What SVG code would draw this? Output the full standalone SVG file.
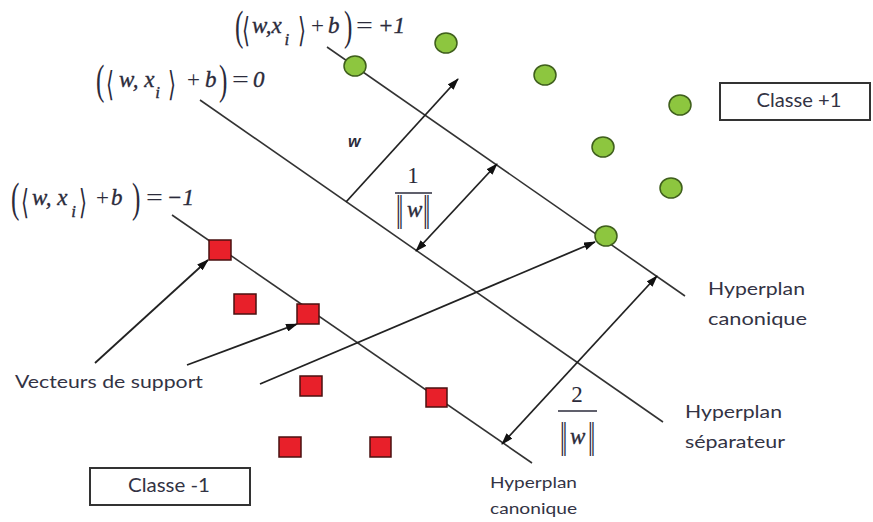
<svg xmlns="http://www.w3.org/2000/svg" width="873" height="522" viewBox="0 0 873 522">
<style>
.ln{stroke:#333;stroke-width:1.6;fill:none}
.ar{stroke:#222;stroke-width:1.8;fill:none;marker-end:url(#ah)}
.dar{stroke:#222;stroke-width:1.8;fill:none;marker-end:url(#ah);marker-start:url(#ah)}
.pos{fill:#8dc63f;stroke:#3f5f1c;stroke-width:1.5}
.neg{fill:#e8202a;stroke:#4a1010;stroke-width:1.5}
.m{font-family:"Liberation Serif",serif;font-style:italic;font-size:23px;fill:#2b2b3b;stroke:#2b2b3b;stroke-width:0.35}
.mu{font-family:"Liberation Serif",serif;font-size:23px;fill:#2b2b3b}
.br{font-family:"Liberation Serif",serif;font-size:42px;fill:#2b2b3b}
.ang{font-family:"DejaVu Serif",serif;font-size:34px;fill:#2b2b3b}
.sub{font-size:17px}
.nb{font-family:"Liberation Serif",serif;font-size:26px;fill:#2b2b3b}
.lb{font-family:Lato,"Liberation Sans",sans-serif;fill:#333344}
.box{fill:#fff;stroke:#333;stroke-width:2}
</style>
<defs>
<marker id="ah" viewBox="0 0 12 8" refX="11" refY="4" markerWidth="12" markerHeight="8" markerUnits="userSpaceOnUse" orient="auto-start-reverse">
<path d="M0,0 L12,4 L0,8 z" fill="#111"/>
</marker>
</defs>

<g id="connectors">
<line class="ln" x1="327" y1="47" x2="685" y2="296"/>
<line class="ln" x1="200" y1="100" x2="663" y2="422"/>
<line class="ln" x1="172" y1="215" x2="532" y2="463"/>
<line class="ar" x1="346" y1="202" x2="458" y2="79"/>
<line class="dar" x1="416" y1="251" x2="497" y2="164"/>
<line class="dar" x1="502" y1="444" x2="657" y2="276"/>
<line class="ar" x1="95" y1="363" x2="208" y2="260"/>
<line class="ar" x1="187" y1="365" x2="297" y2="324"/>
<line class="ar" x1="260" y1="384" x2="595" y2="242"/>
</g>

<g id="positive-points">
<ellipse class="pos" cx="355" cy="66" rx="11" ry="10"/>
<ellipse class="pos" cx="446" cy="43" rx="11" ry="10"/>
<ellipse class="pos" cx="545" cy="75" rx="11" ry="10"/>
<ellipse class="pos" cx="680" cy="105" rx="11" ry="10"/>
<ellipse class="pos" cx="603" cy="147" rx="11" ry="10"/>
<ellipse class="pos" cx="671" cy="188" rx="11" ry="10"/>
<ellipse class="pos" cx="606" cy="236" rx="11" ry="10"/>
</g>

<g id="negative-points">
<rect class="neg" x="209" y="240" width="22" height="20"/>
<rect class="neg" x="234" y="294" width="22" height="20"/>
<rect class="neg" x="297" y="304" width="22" height="20"/>
<rect class="neg" x="300" y="376" width="22" height="20"/>
<rect class="neg" x="426" y="388" width="21" height="19"/>
<rect class="neg" x="279" y="437" width="22" height="20"/>
<rect class="neg" x="370" y="437" width="21" height="20"/>
</g>

<g id="eq-plus1">
<text class="br" transform="translate(235,40) scale(0.6,1)">(</text>
<text class="ang" transform="translate(242,42) scale(0.6,1)">⟨</text>
<text class="m" x="252" y="33">w,x<tspan class="sub" dx="3" dy="12">i</tspan></text>
<text class="ang" transform="translate(298,42) scale(0.6,1)">⟩</text>
<text class="mu" x="311" y="33">+</text>
<text class="m" x="328" y="33">b</text>
<text class="br" transform="translate(344,40) scale(0.6,1)">)</text>
<text class="mu" transform="translate(356,33) scale(1.3,1)">=</text>
<text class="m" x="378" y="33">+1</text>
</g>

<g id="eq-zero">
<text class="br" transform="translate(96,94) scale(0.6,1)">(</text>
<text class="ang" transform="translate(106,96) scale(0.6,1)">⟨</text>
<text class="m" x="119" y="87">w, x<tspan class="sub" dx="1" dy="11">i</tspan></text>
<text class="ang" transform="translate(168,96) scale(0.6,1)">⟩</text>
<text class="mu" x="187" y="87">+</text>
<text class="m" x="205" y="87">b</text>
<text class="br" transform="translate(219,94) scale(0.6,1)">)</text>
<text class="mu" transform="translate(232,87) scale(1.3,1)">=</text>
<text class="m" x="253" y="87">0</text>
</g>

<g id="eq-minus1">
<text class="br" transform="translate(11,212) scale(0.6,1)">(</text>
<text class="ang" transform="translate(21,214) scale(0.6,1)">⟨</text>
<text class="m" x="32" y="205">w, x<tspan class="sub" dx="4" dy="12">i</tspan></text>
<text class="ang" transform="translate(79,214) scale(0.6,1)">⟩</text>
<text class="mu" x="96" y="205">+</text>
<text class="m" x="111" y="205">b</text>
<text class="br" transform="translate(132,212) scale(0.6,1)">)</text>
<text class="mu" transform="translate(146,205) scale(1.3,1)">=</text>
<text class="m" x="167" y="205">−1</text>
</g>

<g id="w-label">
<text x="348" y="147" font-family="'Liberation Sans',sans-serif" font-weight="bold" font-style="italic" font-size="16" fill="#2b2b3b">w</text>
</g>

<g id="frac-one">
<text class="mu" x="413" y="183" text-anchor="middle" font-size="20">1</text>
<line x1="395" y1="193" x2="432" y2="193" stroke="#2b2b3b" stroke-width="1.5"/>
<text class="nb" transform="translate(396,229) scale(1,1.9)">‖</text>
<text class="m" x="407" y="217" font-size="17" fill="#556" stroke="none">w</text>
<text class="nb" transform="translate(423,229) scale(1,1.9)">‖</text>
</g>

<g id="frac-two">
<text class="mu" x="577" y="402" text-anchor="middle" font-size="20">2</text>
<line x1="558" y1="411" x2="597" y2="411" stroke="#2b2b3b" stroke-width="1.5"/>
<text class="nb" transform="translate(560,456) scale(1,1.9)">‖</text>
<text class="m" x="570" y="444" font-size="17" fill="#556" stroke="none">w</text>
<text class="nb" transform="translate(588,456) scale(1,1.9)">‖</text>
</g>

<g id="label-support">
<text class="lb" x="15" y="388" font-size="17" textLength="188" lengthAdjust="spacingAndGlyphs">Vecteurs de support</text>
</g>

<g id="label-canon-right">
<text class="lb" x="708" y="295" font-size="18" textLength="97" lengthAdjust="spacingAndGlyphs">Hyperplan</text>
<text class="lb" x="708" y="325" font-size="18" textLength="99" lengthAdjust="spacingAndGlyphs">canonique</text>
</g>

<g id="label-separateur">
<text class="lb" x="685" y="418" font-size="18" textLength="97" lengthAdjust="spacingAndGlyphs">Hyperplan</text>
<text class="lb" x="685" y="448" font-size="18" textLength="100" lengthAdjust="spacingAndGlyphs">séparateur</text>
</g>

<g id="label-canon-bottom">
<text class="lb" x="490" y="488" font-size="16" textLength="87" lengthAdjust="spacingAndGlyphs">Hyperplan</text>
<text class="lb" x="490" y="514" font-size="16" textLength="87" lengthAdjust="spacingAndGlyphs">canonique</text>
</g>

<g id="classe-minus">
<rect class="box" x="90" y="468" width="160" height="37"/>
<text class="lb" x="169" y="492" font-size="19" text-anchor="middle" textLength="82" lengthAdjust="spacingAndGlyphs">Classe -1</text>
</g>

<g id="classe-plus">
<rect class="box" x="720" y="83" width="150" height="37"/>
<text class="lb" x="799" y="107" font-size="19" text-anchor="middle" textLength="85" lengthAdjust="spacingAndGlyphs">Classe +1</text>
</g>
</svg>
